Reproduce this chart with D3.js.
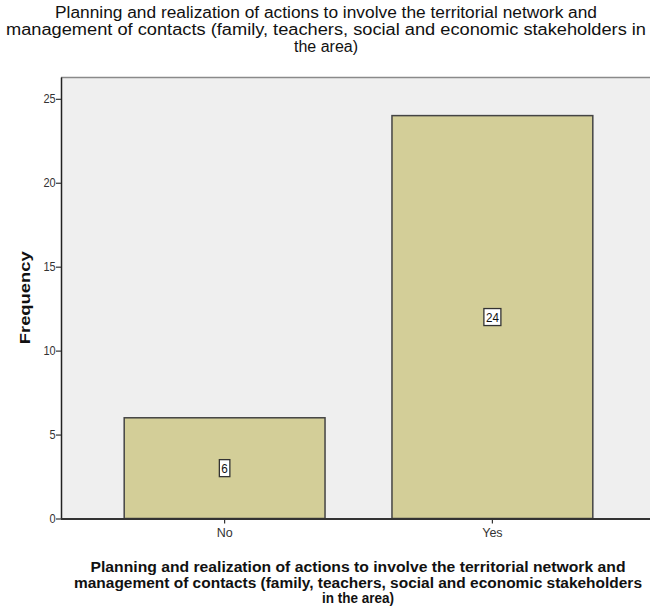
<!DOCTYPE html>
<html>
<head>
<meta charset="utf-8">
<script src="https://cdn.jsdelivr.net/npm/d3@7"></script>
<style>
  html, body { margin: 0; padding: 0; background: #fff; }
  svg { display: block; }
</style>
</head>
<body>
<svg id="chart" width="650" height="612"></svg>
<script>
const categories = ["No", "Yes"];
const frequencies = [6, 24];
const yTicks = [0, 5, 10, 15, 20, 25];
const titleLines = [
  "Planning and realization of actions to involve the territorial network and",
  "management of contacts (family, teachers, social and economic stakeholders in",
  "the area)"
];
const xTitleLines = [
  "Planning and realization of actions to involve the territorial network and",
  "management of contacts (family, teachers, social and economic stakeholders",
  "in the area)"
];
const yTitle = "Frequency";

const svg = d3.select("#chart");
const font = "'Liberation Sans', Arial, sans-serif";

const pLeft = 61, pRight = 650, pTop = 77, pBottom = 518.5;

const x = d3.scaleBand().domain(categories).range([pLeft, 656])
  .paddingInner(0.25).paddingOuter(0.236);
const y = d3.scaleLinear().domain([0, 26.3]).range([pBottom, pTop]);

// plot background
svg.append("rect").attr("x", pLeft).attr("y", pTop)
  .attr("width", pRight - pLeft).attr("height", pBottom - pTop)
  .attr("fill", "#efefef");
// top border
svg.append("line").attr("x1", pLeft).attr("x2", pRight).attr("y1", pTop + 0.5).attr("y2", pTop + 0.5)
  .attr("stroke", "#8a8a8a").attr("stroke-width", 1.5);

// bars
svg.selectAll("rect.bar").data(categories).enter().append("rect")
  .attr("class", "bar")
  .attr("x", d => x(d))
  .attr("y", (d, i) => y(frequencies[i]))
  .attr("width", x.bandwidth())
  .attr("height", (d, i) => y(0) - y(frequencies[i]))
  .attr("fill", "#d3ce98")
  .attr("stroke", "#444")
  .attr("stroke-width", 1.5);

// y axis
const yAxis = svg.append("g").attr("transform", `translate(${pLeft},0)`)
  .call(d3.axisLeft(y).tickValues(yTicks).tickSize(5).tickPadding(1).tickSizeOuter(0));
yAxis.select(".domain").attr("stroke", "#222").attr("stroke-width", 1.5);
yAxis.selectAll(".tick line").attr("stroke", "#333").attr("stroke-width", 1.2);
yAxis.selectAll(".tick text").attr("font-family", font).attr("font-size", 12.5).attr("fill", "#333")
  .attr("transform", "scale(0.88,1)");

// x axis
const xAxis = svg.append("g").attr("transform", `translate(0,${pBottom})`)
  .call(d3.axisBottom(x).tickSize(5).tickPadding(5).tickSizeOuter(0));
xAxis.select(".domain").attr("d", `M${pLeft},0.5H${pRight}`).attr("stroke", "#333").attr("stroke-width", 2);
xAxis.selectAll(".tick line").attr("stroke", "#333").attr("stroke-width", 1.2);
xAxis.selectAll(".tick text").attr("font-family", font).attr("font-size", 12.5).attr("fill", "#333");

// value labels
const labels = svg.selectAll("g.vlabel").data(categories).enter().append("g")
  .attr("class", "vlabel")
  .attr("transform", (d, i) => `translate(${x(d) + x.bandwidth() / 2},${y(frequencies[i] / 2)})`);
labels.each(function(d, i) {
  const g = d3.select(this);
  const txt = String(frequencies[i]);
  const w = txt.length * 6.5 + 4;
  g.append("rect").attr("x", -w / 2).attr("y", -8.5).attr("width", w).attr("height", 17)
    .attr("fill", "#fff").attr("stroke", "#333").attr("stroke-width", 1.3);
  g.append("text").attr("text-anchor", "middle").attr("dy", "0.36em")
    .attr("font-family", font).attr("font-size", 13).attr("fill", "#111")
    .attr("textLength", txt.length * 6.5).attr("lengthAdjust", "spacingAndGlyphs").text(txt);
});

// main title
const titleW = [542, 640, 64];
svg.append("g").selectAll("text").data(titleLines).enter().append("text")
  .attr("x", 326).attr("y", (d, i) => 18 + i * 17)
  .attr("text-anchor", "middle")
  .attr("font-family", font).attr("font-size", 16).attr("fill", "#111")
  .attr("textLength", (d, i) => titleW[i]).attr("lengthAdjust", "spacingAndGlyphs")
  .text(d => d);

// x title
const xTitleW = [535, 568, 72];
svg.append("g").selectAll("text").data(xTitleLines).enter().append("text")
  .attr("x", 358).attr("y", (d, i) => 572 + i * 15.5)
  .attr("text-anchor", "middle")
  .attr("font-family", font).attr("font-size", 14.5).attr("font-weight", "bold").attr("fill", "#111")
  .attr("textLength", (d, i) => xTitleW[i]).attr("lengthAdjust", "spacingAndGlyphs")
  .text(d => d);

// y title
svg.append("text")
  .attr("transform", `translate(25,${(pTop + pBottom) / 2}) rotate(-90)`)
  .attr("text-anchor", "middle")
  .attr("dy", "0.36em")
  .attr("font-family", font).attr("font-size", 15).attr("font-weight", "bold").attr("fill", "#111")
  .attr("textLength", 93).attr("lengthAdjust", "spacingAndGlyphs")
  .text(yTitle);
</script>
</body>
</html>
